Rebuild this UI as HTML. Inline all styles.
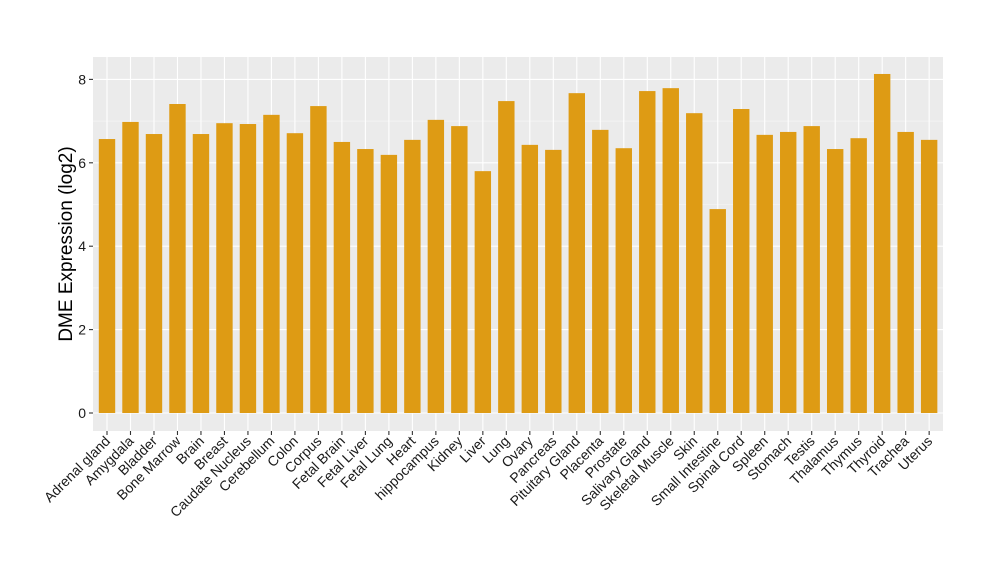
<!DOCTYPE html>
<html><head><meta charset="utf-8"><style>body{margin:0;background:#fff}svg{display:block}text{font-family:"Liberation Sans",sans-serif}</style></head>
<body><svg id="s" width="1000" height="580" xmlns="http://www.w3.org/2000/svg"></svg>
<script>
const names=["Adrenal gland","Amygdala","Bladder","Bone Marrow","Brain","Breast","Caudate Nucleus","Cerebellum","Colon","Corpus","Fetal Brain","Fetal Liver","Fetal Lung","Heart","hippocampus","Kidney","Liver","Lung","Ovary","Pancreas","Pituitary Gland","Placenta","Prostate","Salivary Gland","Skeletal Muscle","Skin","Small Intestine","Spinal Cord","Spleen","Stomach","Testis","Thalamus","Thymus","Thyroid","Trachea","Uterus"];
const vals=[6.57,6.98,6.69,7.41,6.69,6.95,6.93,7.15,6.71,7.36,6.5,6.33,6.19,6.55,7.03,6.88,5.80,7.48,6.43,6.31,7.67,6.79,6.35,7.72,7.79,7.19,4.89,7.29,6.67,6.74,6.88,6.33,6.59,8.13,6.74,6.55];
const L=93,R=943,T=57,B=431,y0=413,k=41.7,x0=107,dx=23.49,bw=16.4;
let h=`<rect x="${L}" y="${T}" width="${R-L}" height="${B-T}" fill="#ebebeb"/>`;
for(let v=1;v<=9;v+=2){const y=y0-v*k;if(y>T)h+=`<line x1="${L}" x2="${R}" y1="${y}" y2="${y}" stroke="#f7f7f7" stroke-width="0.6"/>`;}
for(let v=0;v<=8;v+=2){const y=y0-v*k;h+=`<line x1="${L}" x2="${R}" y1="${y}" y2="${y}" stroke="#fff" stroke-width="1.1"/><line x1="${L-4}" x2="${L}" y1="${y}" y2="${y}" stroke="#333" stroke-width="1.1"/><text x="${L-7}" y="${y+5}" font-size="14" text-anchor="end" fill="#1a1a1a">${v}</text>`;}
names.forEach((n,i)=>{const x=x0+i*dx;h+=`<line x1="${x}" x2="${x}" y1="${T}" y2="${B}" stroke="#fff" stroke-width="1.1"/>`;});
names.forEach((n,i)=>{const x=x0+i*dx,top=y0-vals[i]*k;h+=`<rect x="${x-bw/2}" y="${top}" width="${bw}" height="${y0-top}" fill="#de9b14"/><line x1="${x}" x2="${x}" y1="${B}" y2="${B+4}" stroke="#333" stroke-width="1.1"/><text transform="translate(${x+4},${B+11}) rotate(-45)" font-size="14" text-anchor="end" fill="#1a1a1a">${n}</text>`;});
h+=`<text transform="translate(72,244) rotate(-90)" font-size="19" text-anchor="middle" fill="#000">DME Expression (log2)</text>`;
document.getElementById('s').innerHTML=h;
</script></body></html>
